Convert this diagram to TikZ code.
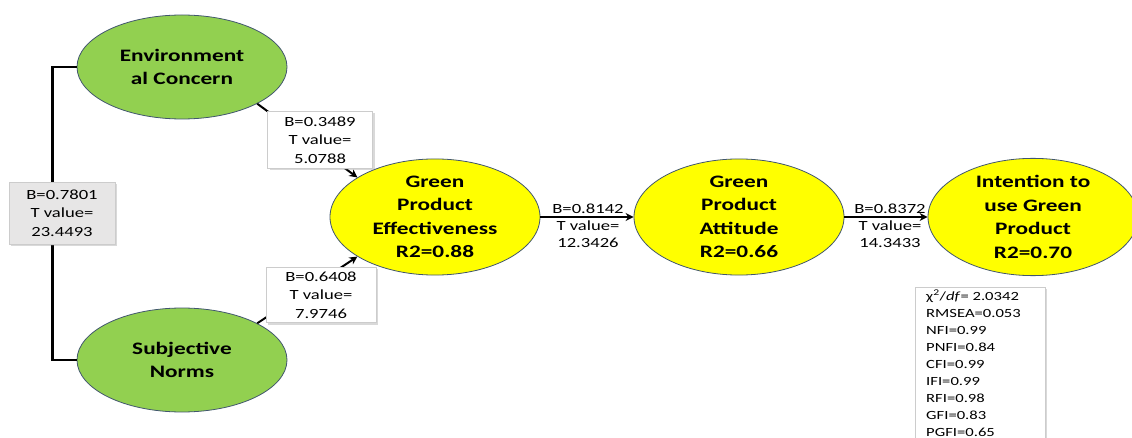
\documentclass[tikz,border=0pt]{standalone}
\usepackage{fontspec}
\setmainfont{Carlito}[FakeStretch=1.33]
\usetikzlibrary{shapes.geometric,shadows,arrows.meta}
\definecolor{ecgreen}{HTML}{92D050}
\definecolor{ecyellow}{HTML}{FFFF00}
\definecolor{ecborder}{HTML}{41566E}
\definecolor{boxgray}{HTML}{E7E6E6}
\begin{document}
\begin{tikzpicture}[x=1pt,y=-1pt,
  latent/.style={ellipse,draw=ecborder,line width=0.8pt,minimum width=210pt,minimum height=104pt,inner sep=0pt,align=center,font=\fontsize{17.5}{23.5}\selectfont\bfseries},
  greenlv/.style={latent,fill=ecgreen},
  yellowlv/.style={latent,fill=ecyellow},
  coefbox/.style={draw=gray!40,fill=white,line width=0.6pt,align=center,inner sep=0pt,minimum width=105pt,minimum height=57pt,font=\fontsize{14}{18.5}\selectfont,drop shadow={shadow xshift=2pt,shadow yshift=-2pt,opacity=0.3}},
  coeflabel/.style={align=center,inner sep=0pt,font=\fontsize{14}{17}\selectfont},
  link/.style={line width=2.3pt,black},
  path/.style={line width=2pt,black,-{Stealth[length=8pt,width=8pt]}}
]
\useasboundingbox (0,0) rectangle (1132,438);

% latent variables
\node[greenlv] (env) at (182,67) {Environment\\al Concern};
\node[greenlv] (sn) at (182,360) {Subjective\\Norms};
\node[yellowlv] (gpe) at (435,217) {Green\\Product\\Effectiveness\\R2=0.88};
\node[yellowlv] (gpa) at (739,217) {Green\\Product\\Attitude\\R2=0.66};
\node[yellowlv] (itu) at (1033,217) {Intention to\\use Green\\Product\\R2=0.70};

% correlation bracket
\draw[link] (env.west) -- ++(-24,0) |- (sn.west);
\node[coefbox,fill=boxgray,minimum width=106pt,minimum height=62pt] (cor) at (62,213) {B=0.7801\\T value=\\23.4493};

% structural paths
\draw[path] (env.-26) -- (gpe.153);
\draw[path] (sn.26) -- (gpe.207);
\node[coefbox] (b1) at (320,140) {B=0.3489\\T value=\\5.0788};
\node[coefbox,minimum width=110pt,minimum height=55pt] (b2) at (321,295) {B=0.6408\\T value=\\7.9746};

\draw[path] (gpe.east) -- (gpa.west);
\node[coeflabel] (l3) at (588,226) {B=0.8142\\T value=\\12.3426};
\draw[path] (gpa.east) -- (itu.west);
\node[coeflabel] (l4) at (890,226) {B=0.8372\\T value=\\14.3433};

% fit indices
\node[draw=gray!40,fill=white,line width=0.6pt,anchor=north west,inner sep=0pt,minimum width=130pt,minimum height=160pt,drop shadow={shadow xshift=2pt,shadow yshift=-2pt,opacity=0.3}] (fitbox) at (915,287) {};
\node[anchor=north west,align=left,inner sep=0pt,font=\fontsize{12.5}{17}\selectfont] (fit) at (926,290) {χ\textsuperscript{2}/\textit{df}= 2.0342\\RMSEA=0.053\\NFI=0.99\\PNFI=0.84\\CFI=0.99\\IFI=0.99\\RFI=0.98\\GFI=0.83\\PGFI=0.65};
\end{tikzpicture}
\end{document}
